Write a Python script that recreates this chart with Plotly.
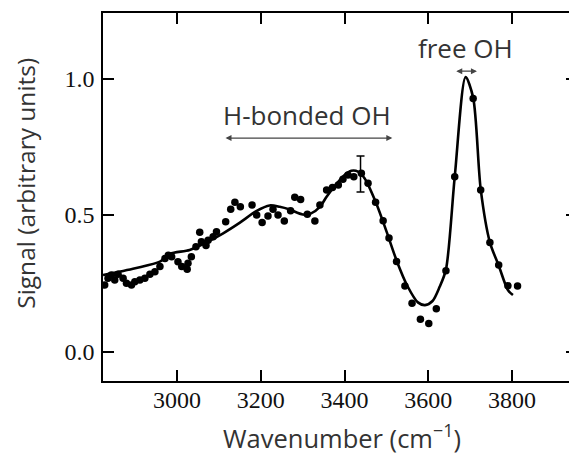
import plotly.graph_objects as go

# measured data points (wavenumber, signal)
pt_x = [2827, 2835, 2843, 2851, 2859, 2871, 2879, 2891, 2899, 2911, 2923, 2935, 2947, 2959,
        2971, 2979, 2987, 3002, 3011, 3024, 3026, 3034, 3045, 3054, 3058, 3069, 3074, 3086,
        3094, 3116, 3128, 3138, 3151, 3179, 3190, 3203, 3217, 3229, 3241, 3256, 3271, 3281,
        3295, 3311, 3329, 3341, 3357, 3371, 3385, 3396, 3408, 3422, 3440, 3456, 3474, 3492,
        3506, 3524, 3544, 3561, 3581, 3601, 3619, 3642, 3663, 3707, 3725, 3747, 3768, 3790,
        3813]
pt_y = [0.244, 0.268, 0.280, 0.262, 0.283, 0.268, 0.250, 0.244, 0.256, 0.262, 0.268, 0.283,
        0.292, 0.311, 0.341, 0.353, 0.347, 0.329, 0.311, 0.301, 0.323, 0.347, 0.384, 0.437,
        0.402, 0.388, 0.408, 0.420, 0.439, 0.475, 0.521, 0.547, 0.530, 0.537, 0.500, 0.473,
        0.496, 0.521, 0.500, 0.478, 0.516, 0.565, 0.557, 0.503, 0.478, 0.537, 0.592, 0.601,
        0.610, 0.631, 0.647, 0.640, 0.653, 0.616, 0.547, 0.479, 0.416, 0.330, 0.240, 0.177,
        0.118, 0.103, 0.157, 0.296, 0.640, 0.927, 0.592, 0.399, 0.317, 0.241, 0.240]

# fitted curve
fit_x = [2823, 2900, 2959, 2983, 3030, 3070, 3110, 3150, 3190, 3221, 3245, 3269, 3300, 3320,
         3341, 3357, 3381, 3400, 3416, 3432, 3448, 3475, 3500, 3525, 3550, 3575, 3592, 3610,
         3627, 3642, 3663, 3689, 3707, 3725, 3747, 3768, 3790, 3802]
fit_y = [0.280, 0.305, 0.329, 0.358, 0.372, 0.400, 0.433, 0.472, 0.515, 0.535, 0.530, 0.520,
         0.502, 0.506, 0.530, 0.567, 0.615, 0.647, 0.662, 0.659, 0.634, 0.545, 0.440, 0.330,
         0.240, 0.180, 0.170, 0.185, 0.237, 0.300, 0.640, 1.005, 0.930, 0.595, 0.400, 0.315,
         0.225, 0.207]

# representative error bar
err_x = [3438]
err_y = [0.650]
err_v = [0.066]

x_ticks = [3000, 3200, 3400, 3600, 3800]
y_ticks = [0.0, 0.5, 1.0]
y_tick_text = ["0.0", "0.5", "1.0"]

fig = go.Figure()
fig.add_trace(go.Scatter(x=fit_x, y=fit_y, mode="lines",
                         line=dict(color="black", width=2.6, shape="spline", smoothing=0.8),
                         hoverinfo="skip"))
fig.add_trace(go.Scatter(x=pt_x, y=pt_y, mode="markers",
                         marker=dict(color="black", size=7.5)))
fig.add_trace(go.Scatter(x=err_x, y=err_y, mode="markers",
                         marker=dict(color="black", size=1, opacity=0),
                         error_y=dict(type="data", array=err_v, color="black",
                                      thickness=1.5, width=4)))

arrow_col = "#444444"
text_col = "#333333"
fig.add_annotation(x=3514, y=0.782, ax=3112, ay=0.782, xref="x", yref="y",
                   axref="x", ayref="y", text="", showarrow=True, arrowhead=2,
                   arrowside="end+start", arrowsize=1, arrowwidth=1.2, arrowcolor=arrow_col)
fig.add_annotation(x=3716, y=1.027, ax=3663, ay=1.027, xref="x", yref="y",
                   axref="x", ayref="y", text="", showarrow=True, arrowhead=2,
                   arrowside="end+start", arrowsize=1, arrowwidth=1.2, arrowcolor=arrow_col)
fig.add_annotation(x=3310, y=0.866, xref="x", yref="y", text="H-bonded OH",
                   showarrow=False, font=dict(family="Open Sans", size=26, color=text_col))
fig.add_annotation(x=3689, y=1.112, xref="x", yref="y", text="free OH",
                   showarrow=False, font=dict(family="Open Sans", size=26, color=text_col))

# axis titles
fig.add_annotation(x=0.504, y=-0.152, xref="paper", yref="paper",
                   text="Wavenumber (cm<sup>−1</sup>)", showarrow=False,
                   xanchor="center", yanchor="middle",
                   font=dict(family="Open Sans", size=25.5, color=text_col))
fig.add_annotation(x=-0.165, y=0.538, xref="paper", yref="paper",
                   text="Signal (arbitrary units)", showarrow=False, textangle=-90,
                   xanchor="center", yanchor="middle",
                   font=dict(family="Open Sans", size=24.5, color=text_col))

# page body adds an 8 px offset, so margins are shifted to compensate
fig.update_layout(
    width=577, height=459,
    margin=dict(l=95, r=8, t=5, b=86, autoexpand=False),
    plot_bgcolor="white", paper_bgcolor="white",
    showlegend=False,
    xaxis=dict(range=[2823, 3955], tickvals=x_ticks, ticks="inside", ticklen=11,
               tickwidth=1.5, tickcolor="black", showline=True, linecolor="black",
               linewidth=1.5, mirror="allticks", showgrid=False, zeroline=False,
               automargin=False, ticklabelstandoff=-4,
               tickfont=dict(family="Liberation Serif", size=24, color="#111111")),
    yaxis=dict(range=[-0.108, 1.24], tickvals=y_ticks, ticktext=y_tick_text,
               ticks="inside", ticklen=11, tickwidth=1.5, tickcolor="black",
               showline=True, linecolor="black", linewidth=1.5, mirror="ticks",
               showgrid=False, zeroline=False, automargin=False, ticklabelstandoff=2,
               tickfont=dict(family="Liberation Serif", size=24, color="#111111")),
)

fig.write_html("out.html")
